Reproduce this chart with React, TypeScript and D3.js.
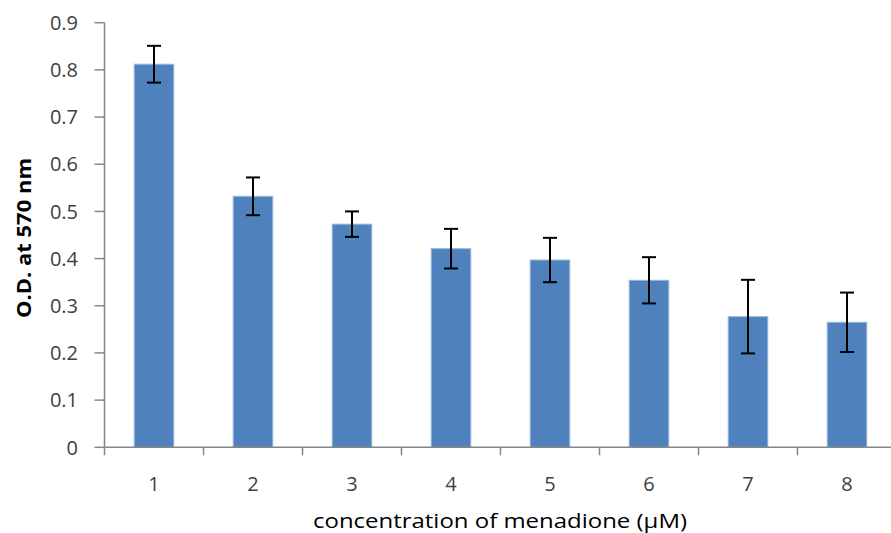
import React from "react";
import * as d3 from "d3";

// concentration categories
const categories = ["1", "2", "3", "4", "5", "6", "7", "8"];
// O.D. at 570 nm
const means = [0.812, 0.532, 0.473, 0.421, 0.397, 0.354, 0.277, 0.265];
// error (±) for each bar
const errors = [0.039, 0.04, 0.027, 0.042, 0.047, 0.049, 0.078, 0.063];
const yTicks = [0, 0.1, 0.2, 0.3, 0.4, 0.5, 0.6, 0.7, 0.8, 0.9];

const W = 891;
const H = 533;

export default function App() {
  const x = d3
    .scaleBand<string>()
    .domain(categories)
    .range([104.5, 896.5])
    .paddingInner(0.6)
    .paddingOuter(0.3);
  const y = d3.scaleLinear().domain([0, 0.9]).range([447.3, 22.7]);

  const axisColor = "#868686";
  const textColor = "#404040";
  const font = "'Open Sans', sans-serif";
  const x0 = x.range()[0];
  const step = x.step();

  return (
    <svg
      width={W}
      height={H}
      style={{ position: "absolute", left: 0, top: 0, background: "#fff" }}
    >
      {/* bars */}
      {categories.map((c, i) => (
        <rect
          key={c}
          x={x(c)!}
          y={y(means[i])}
          width={x.bandwidth()}
          height={y(0) - y(means[i])}
          fill="#4f81bd"
          stroke="#9bb7de"
          strokeWidth={1}
        />
      ))}

      {/* error bars */}
      {categories.map((c, i) => {
        const cx = x(c)! + x.bandwidth() / 2;
        const top = y(means[i] + errors[i]);
        const bot = y(means[i] - errors[i]);
        return (
          <g key={c} stroke="#000" strokeWidth={2}>
            <line x1={cx} x2={cx} y1={top} y2={bot} />
            <line x1={cx - 7} x2={cx + 7} y1={top} y2={top} />
            <line x1={cx - 7} x2={cx + 7} y1={bot} y2={bot} />
          </g>
        );
      })}

      {/* y axis */}
      <line x1={x0} x2={x0} y1={y(0.9)} y2={y(0)} stroke={axisColor} strokeWidth={1.5} />
      {yTicks.map((t) => (
        <g key={t}>
          <line x1={x0 - 10} x2={x0} y1={y(t)} y2={y(t)} stroke={axisColor} strokeWidth={1.5} />
          <text
            x={78}
            y={y(t)}
            dy="0.36em"
            textAnchor="end"
            fontFamily={font}
            fontSize={20}
            fill={textColor}
          >
            {t === 0 ? "0" : d3.format(".1f")(t)}
          </text>
        </g>
      ))}

      {/* x axis */}
      <line x1={x0} x2={W} y1={y(0)} y2={y(0)} stroke={axisColor} strokeWidth={1.5} />
      {d3.range(categories.length + 1).map((i) => (
        <line
          key={i}
          x1={x0 + i * step}
          x2={x0 + i * step}
          y1={y(0)}
          y2={y(0) + 8}
          stroke={axisColor}
          strokeWidth={1.5}
        />
      ))}
      {categories.map((c) => (
        <text
          key={c}
          x={x(c)! + x.bandwidth() / 2}
          y={484}
          dy="0.36em"
          textAnchor="middle"
          fontFamily={font}
          fontSize={20}
          fill={textColor}
        >
          {c}
        </text>
      ))}

      {/* axis titles */}
      <text
        x={500}
        y={521}
        dy="0.36em"
        textAnchor="middle"
        fontFamily={font}
        fontSize={20}
        textLength={374}
        lengthAdjust="spacingAndGlyphs"
        fill="#000"
      >
        concentration of menadione (μM)
      </text>
      <text
        transform="translate(24,238) rotate(-90)"
        dy="0.36em"
        textAnchor="middle"
        fontFamily={font}
        fontSize={20}
        fontWeight="bold"
        textLength={160}
        lengthAdjust="spacingAndGlyphs"
        fill="#000"
      >
        O.D. at 570 nm
      </text>
    </svg>
  );
}
